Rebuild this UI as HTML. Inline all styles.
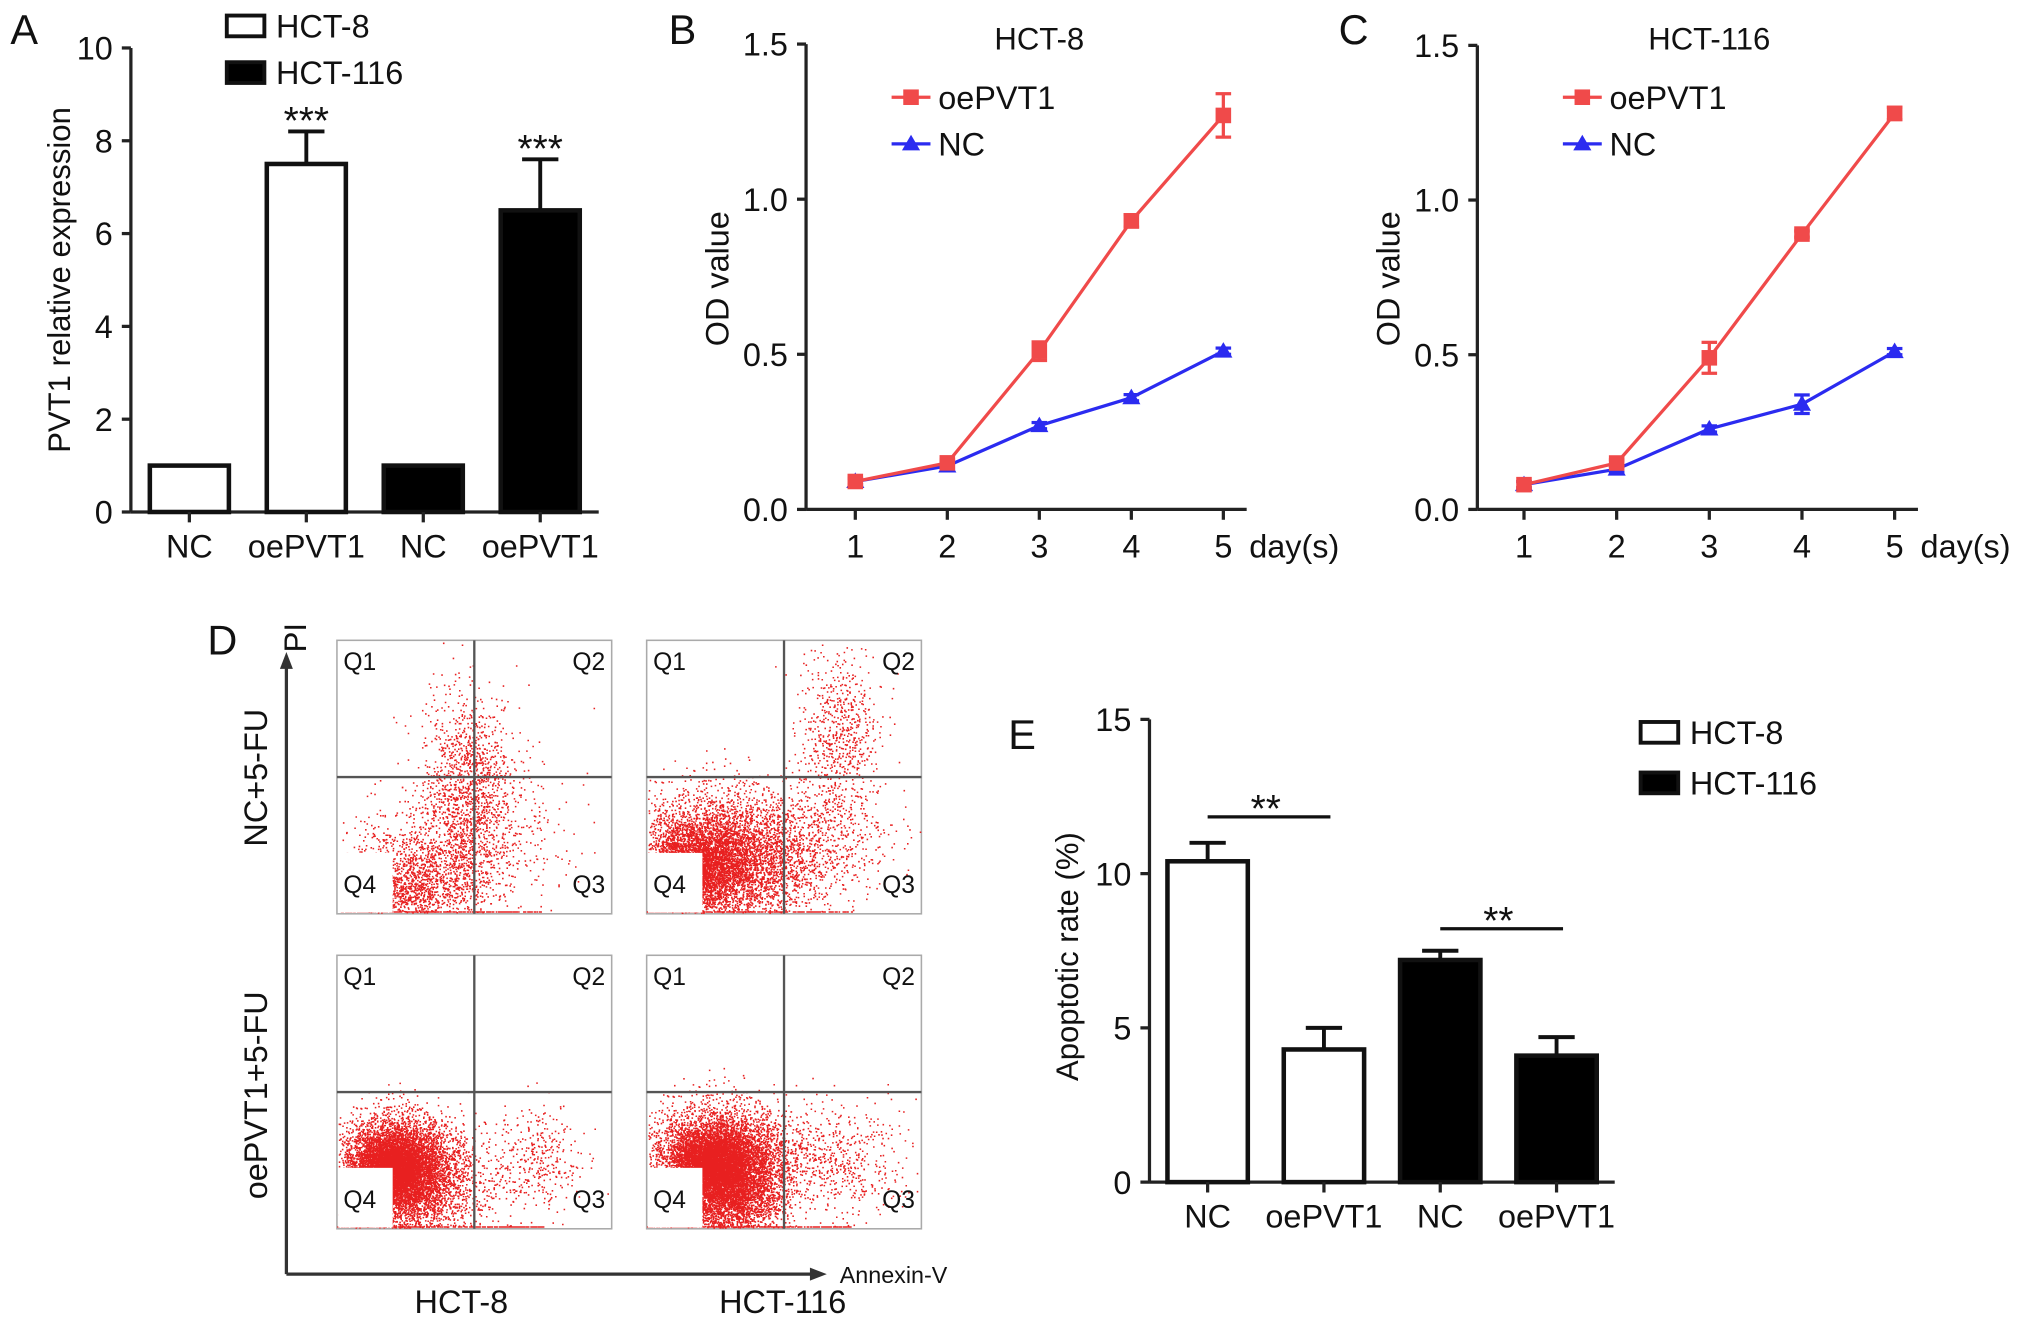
<!DOCTYPE html>
<html><head><meta charset="utf-8">
<style>
html,body{margin:0;padding:0;background:#fff;}
svg{display:block;font-family:"Liberation Sans",Arial,sans-serif;}
</style></head>
<body>
<svg id="fig" width="2032" height="1326" viewBox="0 0 1568 1023" preserveAspectRatio="none" xmlns="http://www.w3.org/2000/svg">
<rect x="0" y="0" width="1568" height="1023" fill="#fff"/>
<g id="gA"></g>
<g id="gB"></g>
<g id="gC"></g>
<g id="gD"></g>
<g id="gE"></g>
</svg>
<script>
// ---- Panel A data ----
const aCats = ["NC","oePVT1","NC","oePVT1"];
const aVals = [1, 7.5, 1, 6.5];
const aErr = [0, 0.7, 0, 1.1];
const aFill = ["white","white","black","black"];
const aTicks = [0,2,4,6,8,10];
const aSig = ["","***","","***"];
// ---- Panel B data ----
const days = [1,2,3,4,5];
const bOe = [0.09,0.15,0.51,0.93,1.27];
const bOeErr = [0.01,0.01,0.03,0.02,0.07];
const bNc = [0.09,0.14,0.27,0.36,0.51];
const bNcErr = [0.01,0.01,0.01,0.01,0.01];
// ---- Panel C data ----
const cOe = [0.08,0.15,0.49,0.89,1.28];
const cOeErr = [0.01,0.01,0.05,0.01,0.02];
const cNc = [0.08,0.13,0.26,0.34,0.51];
const cNcErr = [0.01,0.01,0.01,0.03,0.01];
const odTicks = [0.0,0.5,1.0,1.5];
// ---- Panel E data ----
const eCats = ["NC","oePVT1","NC","oePVT1"];
const eVals = [10.4, 4.3, 7.2, 4.1];
const eErr = [0.6, 0.7, 0.3, 0.6];
const eFill = ["white","white","black","black"];
const eTicks = [0,5,10,15];

const NS="http://www.w3.org/2000/svg";
function mk(parent,tag,attrs,text){
  const e=document.createElementNS(NS,tag);
  for(const k in attrs) e.setAttribute(k,attrs[k]);
  if(text!==undefined) e.textContent=text;
  parent.appendChild(e); return e;
}
function txt(parent,x,y,s,size,anchor,name,extra){
  const a={x:x,y:y,"font-size":size,"text-anchor":anchor||"middle",fill:"#111"};
  if(extra) for(const k in extra) a[k]=extra[k];
  const t=mk(parent,"text",a,s);
  
  
  return t;
}

// ===== Bar chart helper =====
function barChart(g,opt){
  const y=v=>opt.y0-(v/opt.ymax)*(opt.y0-opt.ytop);
  const ax=mk(g,"line",{x1:opt.ax,y1:opt.ytop,x2:opt.ax,y2:opt.y0,stroke:"#222","stroke-width":2.5});
  
  
  const xa=mk(g,"line",{x1:opt.ax,y1:opt.y0,x2:opt.xend,y2:opt.y0,stroke:"#222","stroke-width":2.5});
  
  
  opt.ticks.forEach(t=>{
    mk(g,"line",{x1:opt.ax-7,y1:y(t),x2:opt.ax,y2:y(t),stroke:"#222","stroke-width":2.5});
    txt(g,opt.ax-14,y(t)+9,String(t),25,"end","y-tick-label");
  });
  const n=opt.vals.length;
  const slot=(opt.xend-opt.ax)/n;
  opt.vals.forEach((v,i)=>{
    const cx=opt.ax+slot*(i+0.5);
    const w=opt.bw;
    if(opt.err[i]>0){
      const el=mk(g,"line",{x1:cx,y1:y(v),x2:cx,y2:y(v+opt.err[i]),stroke:"#111","stroke-width":3});
      
      
      mk(g,"line",{x1:cx-14,y1:y(v+opt.err[i]),x2:cx+14,y2:y(v+opt.err[i]),stroke:"#111","stroke-width":3});
    }
    const r=mk(g,"rect",{x:cx-w/2,y:y(v),width:w,height:opt.y0-y(v),fill:opt.fill[i],stroke:"#111","stroke-width":3.5});
    
    
    mk(g,"line",{x1:cx,y1:opt.y0,x2:cx,y2:opt.y0+8,stroke:"#222","stroke-width":2.5});
    txt(g,cx,opt.y0+35,opt.cats[i],25,"middle","x-category-label");
    if(opt.sig && opt.sig[i]) txt(g,cx,y(v+opt.err[i])+2,opt.sig[i],30,"middle","significance-stars");
  });
  return {y:y,slot:slot};
}
function legendBars(g,x,y1,y2){
  const r1=mk(g,"rect",{x:x,y:y1,width:29,height:16,fill:"white",stroke:"#111","stroke-width":3});
  
  
  txt(g,x+38,y1+17,"HCT-8",25,"start","legend-entry-hct8");
  const r2=mk(g,"rect",{x:x,y:y2,width:29,height:16,fill:"black",stroke:"#111","stroke-width":3});
  
  
  txt(g,x+38,y2+17,"HCT-116",25,"start","legend-entry-hct116");
}

// ===== Panel A =====
(function(){
  const g=document.getElementById("gA");
  txt(g,8,34,"A",32,"start","panel-label-a");
  barChart(g,{ax:101,y0:395,ytop:37,ymax:10,xend:462,bw:61,vals:aVals,err:aErr,fill:aFill,cats:aCats,ticks:aTicks,sig:aSig});
  txt(g,54,216,"PVT1 relative expression",24,"middle","y-axis-title",{transform:"rotate(-90 54 216)"});
  legendBars(g,175,12,48);
})();

// ===== Line chart helper =====
function lineChart(g,opt){
  const y=v=>opt.y0-(v/1.5)*(opt.y0-opt.ytop);
  const x=d=>opt.x1+(d-1)*(opt.x5-opt.x1)/4;
  const ya=mk(g,"line",{x1:opt.ax,y1:opt.ytop,x2:opt.ax,y2:opt.y0,stroke:"#222","stroke-width":2.5});
  
  
  const xa=mk(g,"line",{x1:opt.ax,y1:opt.y0,x2:opt.x5+18,y2:opt.y0,stroke:"#222","stroke-width":2.5});
  
  
  odTicks.forEach(t=>{
    mk(g,"line",{x1:opt.ax-7,y1:y(t),x2:opt.ax,y2:y(t),stroke:"#222","stroke-width":2.5});
    txt(g,opt.ax-14,y(t)+9,t.toFixed(1),25,"end","y-tick-label");
  });
  days.forEach(d=>{
    mk(g,"line",{x1:x(d),y1:opt.y0,x2:x(d),y2:opt.y0+8,stroke:"#222","stroke-width":2.5});
    txt(g,x(d),opt.y0+37,String(d),25,"middle","x-tick-label");
  });
  txt(g,x(5)+20,opt.y0+37,"day(s)",25,"start","x-axis-unit");
  txt(g,opt.ax-60,215,"OD value",25,"middle","y-axis-title",{transform:"rotate(-90 "+(opt.ax-60)+" 215)"});
  txt(g,x(3),38,opt.title,24,"middle","chart-title");
  function series(vals,errs,color,shape,name){
    const pts=vals.map((v,i)=>x(days[i])+","+y(v)).join(" ");
    const pl=mk(g,"polyline",{points:pts,fill:"none",stroke:color,"stroke-width":2.5});
    
    
    vals.forEach((v,i)=>{
      const cx=x(days[i]),cy=y(v),e=errs[i];
      mk(g,"line",{x1:cx,y1:y(v-e),x2:cx,y2:y(v+e),stroke:color,"stroke-width":2.5});
      mk(g,"line",{x1:cx-6,y1:y(v+e),x2:cx+6,y2:y(v+e),stroke:color,"stroke-width":2.5});
      mk(g,"line",{x1:cx-6,y1:y(v-e),x2:cx+6,y2:y(v-e),stroke:color,"stroke-width":2.5});
      let m;
      if(shape==="sq") m=mk(g,"rect",{x:cx-6,y:cy-6,width:12,height:12,fill:color});
      else m=mk(g,"polygon",{points:(cx)+","+(cy-7)+" "+(cx-7)+","+(cy+5)+" "+(cx+7)+","+(cy+5),fill:color});
      
      
    });
  }
  series(opt.nc,opt.ncErr,"#2b2bf0","tri","nc");
  series(opt.oe,opt.oeErr,"#f04a4a","sq","oepvt1");
  const lx=opt.lx;
  mk(g,"line",{x1:lx,y1:75,x2:lx+30,y2:75,stroke:"#f04a4a","stroke-width":2.5});
  mk(g,"rect",{x:lx+9,y:69,width:12,height:12,fill:"#f04a4a"});
  txt(g,lx+36,84,"oePVT1",25,"start","legend-entry-oepvt1");
  mk(g,"line",{x1:lx,y1:111,x2:lx+30,y2:111,stroke:"#2b2bf0","stroke-width":2.5});
  mk(g,"polygon",{points:(lx+15)+",104 "+(lx+8)+",116 "+(lx+22)+",116",fill:"#2b2bf0"});
  txt(g,lx+36,120,"NC",25,"start","legend-entry-nc");
}
(function(){
  const g=document.getElementById("gB");
  txt(g,516,34,"B",32,"start","panel-label-b");
  lineChart(g,{ax:622,y0:393,ytop:34,x1:660,x5:944,title:"HCT-8",oe:bOe,oeErr:bOeErr,nc:bNc,ncErr:bNcErr,lx:688});
  const g2=document.getElementById("gC");
  txt(g2,1033,34,"C",32,"start","panel-label-c");
  lineChart(g2,{ax:1140,y0:393,ytop:35,x1:1176,x5:1462,title:"HCT-116",oe:cOe,oeErr:cOeErr,nc:cNc,ncErr:cNcErr,lx:1206});
})();

// ===== Panel D (flow cytometry) =====
const dClusters = [
  [[0.30,0.85,0.14,0.10,1400],[0.47,0.55,0.08,0.18,1300],[0.20,0.93,0.12,0.05,500],[0.55,0.70,0.15,0.15,400]],
  [[0.27,0.80,0.16,0.12,5500],[0.70,0.35,0.07,0.17,700],[0.60,0.75,0.14,0.12,600],[0.18,0.82,0.08,0.07,2500]],
  [[0.22,0.77,0.10,0.09,6000],[0.28,0.85,0.14,0.10,2000],[0.72,0.75,0.08,0.10,350],[0.20,0.78,0.06,0.06,3000]],
  [[0.27,0.75,0.13,0.10,7500],[0.30,0.88,0.10,0.08,2500],[0.70,0.75,0.12,0.10,500],[0.24,0.76,0.07,0.06,4000]]
];
const dPlots = [[260,494],[499,494],[260,737],[499,737]];
(function(){
  const g=document.getElementById("gD");
  const W=212,H=211;
  let seed=12345;
  const rnd=()=>{seed=(seed*1103515245+12345)%2147483648;return seed/2147483648;};
  const gauss=()=>{let u=rnd()||1e-6,v=rnd();return Math.sqrt(-2*Math.log(u))*Math.cos(2*Math.PI*v);};
  dPlots.forEach((p,pi)=>{
    const pg=mk(g,"g",{});
    
    
    mk(pg,"rect",{x:p[0],y:p[1],width:W,height:H,fill:"#fff",stroke:"#aaa","stroke-width":1.2});
    let d="";
    dClusters[pi].forEach(c=>{
      for(let k=0;k<c[4];k++){
        let fx=c[0]+gauss()*c[2], fy=c[1]+gauss()*c[3];
        if(fx<0.005||fx>0.995||fy<0.005||fy>0.995) continue;
        const px=p[0]+fx*W, py=p[1]+fy*H;
        d+="M"+px.toFixed(1)+" "+py.toFixed(1)+"h1.2v1.2h-1.2z";
      }
    });
    for(let k=0;k<250;k++){
      const px=p[0]+rnd()*W*0.75, py=p[1]+H-2;
      d+="M"+px.toFixed(1)+" "+py.toFixed(1)+"h1.2v1.2h-1.2z";
    }
    const dots=mk(pg,"path",{d:d,fill:"#e82020"});
    
    
    mk(pg,"line",{x1:p[0]+W/2,y1:p[1],x2:p[0]+W/2,y2:p[1]+H,stroke:"#555","stroke-width":1.8});
    mk(pg,"line",{x1:p[0],y1:p[1]+H/2,x2:p[0]+W,y2:p[1]+H/2,stroke:"#555","stroke-width":1.8});
    mk(pg,"rect",{x:p[0]+1,y:p[1]+H-47,width:42,height:46,fill:"#fff"});
    txt(pg,p[0]+5,p[1]+23,"Q1",19,"start","quadrant-q1");
    txt(pg,p[0]+W-5,p[1]+23,"Q2",19,"end","quadrant-q2");
    txt(pg,p[0]+W-5,p[1]+H-16,"Q3",19,"end","quadrant-q3");
    txt(pg,p[0]+5,p[1]+H-16,"Q4",19,"start","quadrant-q4");
  });
  txt(g,160,505,"D",32,"start","panel-label-d");
  mk(g,"line",{x1:221,y1:983,x2:221,y2:512,stroke:"#333","stroke-width":2.5});
  mk(g,"polygon",{points:"221,503 216,516 226,516",fill:"#333"});
  mk(g,"line",{x1:221,y1:983,x2:630,y2:983,stroke:"#333","stroke-width":2.5});
  mk(g,"polygon",{points:"638,983 625,978 625,988",fill:"#333"});
  txt(g,236,492,"PI",24,"middle","y-axis-title-pi",{transform:"rotate(-90 236 492)"});
  txt(g,648,990,"Annexin-V",18,"start","x-axis-title-annexin");
  txt(g,356,1013,"HCT-8",25,"middle","column-label-hct8");
  txt(g,604,1013,"HCT-116",25,"middle","column-label-hct116");
  txt(g,206,600,"NC+5-FU",25,"middle","row-label-nc",{transform:"rotate(-90 206 600)"});
  txt(g,206,845,"oePVT1+5-FU",25,"middle","row-label-oepvt1",{transform:"rotate(-90 206 845)"});
})();

// ===== Panel E =====
(function(){
  const g=document.getElementById("gE");
  txt(g,778,578,"E",32,"start","panel-label-e");
  const r=barChart(g,{ax:887,y0:912,ytop:555,ymax:15,xend:1246,bw:62,vals:eVals,err:eErr,fill:eFill,cats:eCats,ticks:eTicks});
  txt(g,832,738,"Apoptotic rate (%)",24,"middle","y-axis-title",{transform:"rotate(-90 832 738)"});
  const cx=i=>887+r.slot*(i+0.5);
  const s1=Math.min(r.y(eVals[0]+eErr[0]),r.y(eVals[1]+eErr[1]))-20;
  const l1=mk(g,"line",{x1:cx(0),y1:s1,x2:cx(1)+5,y2:s1,stroke:"#111","stroke-width":2.5});
  
  
  txt(g,(cx(0)+cx(1))/2,s1+4,"**",30,"middle","significance-stars");
  const s2=Math.min(r.y(eVals[2]+eErr[2]),r.y(eVals[3]+eErr[3]))-17;
  const l2=mk(g,"line",{x1:cx(2),y1:s2,x2:cx(3)+5,y2:s2,stroke:"#111","stroke-width":2.5});
  
  
  txt(g,(cx(2)+cx(3))/2,s2+4,"**",30,"middle","significance-stars");
  legendBars(g,1266,557,596);
})();
</script>
</body></html>
